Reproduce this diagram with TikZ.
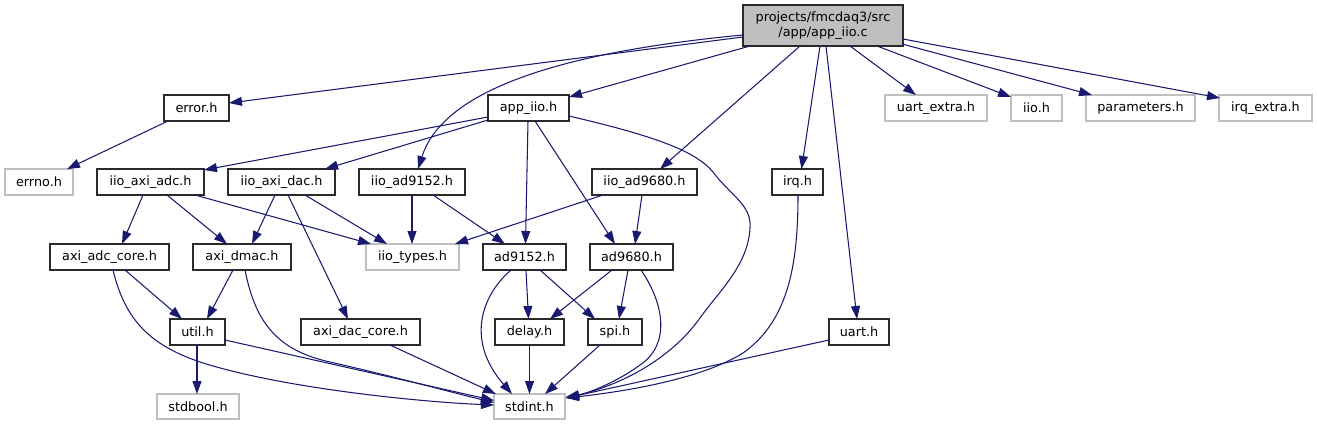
\documentclass[tikz,border=0pt]{standalone}
\usepackage{fontspec}
\setmainfont{DejaVu Sans}
\usetikzlibrary{arrows.meta}
\definecolor{edgecol}{HTML}{191970}
\definecolor{topfill}{HTML}{BFBFBF}
\definecolor{missing}{HTML}{BFBFBF}
\definecolor{nodeborder}{HTML}{2A2A2A}
\tikzset{
  file/.style={draw=nodeborder, line width=1.1pt, fill=white, inner sep=0pt, minimum height=26pt,
    font=\fontsize{12.8}{15}\selectfont, text=black, anchor=center},
  extfile/.style={file, draw=missing},
  topfile/.style={file, fill=topfill, minimum height=41pt, align=center},
  dep/.style={draw=edgecol, line width=1.05pt, -{Triangle[length=13pt,width=9pt,fill=edgecol]}},
}
\newcommand\nd[3]{([shift={(#2,#3)}]#1.center)}
\begin{document}
\begin{tikzpicture}[x=1pt,y=-1pt]
\useasboundingbox (0,0) rectangle (1317,425);
% row 1
\node[topfile, minimum width=160pt] (top) at (823,25.5) {projects/fmcdaq3/src\\/app/app\_iio.c};
% row 2
\node[file, minimum width=65pt] (error) at (196.5,108) {error.h};
\node[file, minimum width=81pt] (appiioh) at (528.5,108) {app\_iio.h};
\node[extfile, minimum width=102pt] (uartx) at (936,108) {uart\_extra.h};
\node[extfile, minimum width=51pt] (iio) at (1036.5,108) {iio.h};
\node[extfile, minimum width=109pt] (params) at (1140.5,108) {parameters.h};
\node[extfile, minimum width=93pt] (irqx) at (1265.5,108) {irq\_extra.h};
% row 3
\node[extfile, minimum width=68pt] (errno) at (39,182) {errno.h};
\node[file, minimum width=107pt] (axiadc) at (150.5,182) {iio\_axi\_adc.h};
\node[file, minimum width=107pt] (axidac) at (281.5,182) {iio\_axi\_dac.h};
\node[file, minimum width=106pt] (iad9152) at (412,182) {iio\_ad9152.h};
\node[file, minimum width=105pt] (iad9680) at (644.5,182) {iio\_ad9680.h};
\node[file, minimum width=51pt] (irq) at (797.5,182) {irq.h};
% row 4
\node[file, minimum width=119pt] (adccore) at (109.5,257) {axi\_adc\_core.h};
\node[file, minimum width=98pt] (dmac) at (242,257) {axi\_dmac.h};
\node[extfile, minimum width=93pt] (types) at (412.5,257) {iio\_types.h};
\node[file, minimum width=83pt] (ad9152) at (524.5,257) {ad9152.h};
\node[file, minimum width=83pt] (ad9680) at (631.5,257) {ad9680.h};
% row 5
\node[file, minimum width=55pt] (util) at (197.5,332) {util.h};
\node[file, minimum width=119pt] (daccore) at (360.5,332) {axi\_dac\_core.h};
\node[file, minimum width=69pt] (delay) at (529.5,332) {delay.h};
\node[file, minimum width=54pt] (spi) at (615,332) {spi.h};
\node[file, minimum width=60pt] (uart) at (859,332) {uart.h};
% row 6
\node[extfile, minimum width=82pt, minimum height=25pt] (stdbool) at (198,406.5) {stdbool.h};
\node[extfile, minimum width=71pt, minimum height=25pt] (stdint) at (529.5,406.5) {stdint.h};

% edges from top
\draw[dep] \nd{top}{-80}{11.5} -- \nd{error}{32.5}{-5};
\draw[dep] \nd{top}{-80}{9.5} .. controls (530,55) and (440,100) .. \nd{iad9152}{6}{-13};
\draw[dep] \nd{top}{-73}{20.5} -- \nd{appiioh}{40.5}{-11};
\draw[dep] \nd{top}{-23}{20.5} -- \nd{iad9680}{15.5}{-13};
\draw[dep] \nd{top}{-3}{20.5} -- \nd{irq}{4}{-13};
\draw[dep] \nd{top}{3}{20.5} -- \nd{uart}{-2}{-13};
\draw[dep] \nd{top}{27}{20.5} -- \nd{uartx}{-20}{-13};
\draw[dep] \nd{top}{54}{20.5} -- \nd{iio}{-25.5}{-11};
\draw[dep] \nd{top}{79}{18.5} -- \nd{params}{-48.5}{-13};
\draw[dep] \nd{top}{80}{13.5} -- \nd{irqx}{-45.5}{-10};
% error
\draw[dep] \nd{error}{-28.5}{13} -- \nd{errno}{28}{-13};
% app_iio.h
\draw[dep] \nd{appiioh}{-40.5}{9} -- \nd{axiadc}{53.5}{-12};
\draw[dep] \nd{appiioh}{-40.5}{12} -- \nd{axidac}{43.5}{-13};
\draw[dep] \nd{appiioh}{-0.5}{13} -- \nd{ad9152}{1}{-13};
\draw[dep] \nd{appiioh}{6.5}{13} -- \nd{ad9680}{-16.5}{-13};
\draw[dep] \nd{appiioh}{40.5}{8} .. controls (650,135) and (695,150) .. (713,172)
   .. controls (730,195) and (752,205) .. (750,228)
   .. controls (748,265) and (720,290) .. (700,318)
   .. controls (670,360) and (620,385) .. \nd{stdint}{36.5}{-8.5};
% iio_axi_adc.h
\draw[dep] \nd{axiadc}{-7.5}{13} -- \nd{adccore}{12.5}{-13};
\draw[dep] \nd{axiadc}{16.5}{13} -- \nd{dmac}{-15}{-13};
\draw[dep] \nd{axiadc}{44.5}{13} -- \nd{types}{-41.5}{-13};
% iio_axi_dac.h
\draw[dep] \nd{axidac}{-6.5}{13} -- \nd{dmac}{10}{-13};
\draw[dep] \nd{axidac}{6.5}{13} -- \nd{daccore}{-12.5}{-13};
\draw[dep] \nd{axidac}{23.5}{13} -- \nd{types}{-25.5}{-13};
% iio_ad9152.h
\draw[dep] \nd{iad9152}{0}{13} -- \nd{types}{-0.5}{-13};
\draw[dep] \nd{iad9152}{21}{13} -- \nd{ad9152}{-19.5}{-13};
% iio_ad9680.h
\draw[dep] \nd{iad9680}{-41.5}{13} -- \nd{types}{42.5}{-13};
\draw[dep] \nd{iad9680}{-2.5}{13} -- \nd{ad9680}{3.5}{-13};
% irq.h, uart.h
\draw[dep] \nd{irq}{0.5}{13} .. controls (798,260) and (790,320) .. (743,353)
   .. controls (700,380) and (620,392) .. \nd{stdint}{36.5}{-8.5};
\draw[dep] \nd{uart}{-30}{8} -- \nd{stdint}{36.5}{-8.5};
% axi_adc_core.h
\draw[dep] \nd{adccore}{15.5}{13} -- \nd{util}{-15.5}{-13};
\draw[dep] \nd{adccore}{3.5}{13} .. controls (125,320) and (150,345) .. (200,362)
   .. controls (280,388) and (420,402) .. \nd{stdint}{-35.5}{-1.5};
% axi_dmac.h
\draw[dep] \nd{dmac}{-9}{13} -- \nd{util}{9.5}{-13};
\draw[dep] \nd{dmac}{3}{13} .. controls (255,320) and (275,350) .. (330,362)
   .. controls (400,378) and (450,392) .. \nd{stdint}{-35.5}{-4};
% util.h
\draw[dep] \nd{util}{-0.5}{13} -- \nd{stdbool}{-1}{-12.5};
\draw[dep] \nd{util}{27.5}{8} -- \nd{stdint}{-35.5}{-6};
% axi_dac_core.h
\draw[dep] \nd{daccore}{29.5}{13} -- \nd{stdint}{-33.5}{-12.5};
% ad9152.h
\draw[dep] \nd{ad9152}{1.5}{13} -- \nd{delay}{-1}{-13};
\draw[dep] \nd{ad9152}{15.5}{13} -- \nd{spi}{-20}{-13};
\draw[dep] \nd{ad9152}{-13.5}{13} .. controls (482,295) and (465,340) .. \nd{stdint}{-17.5}{-12.5};
% ad9680.h
\draw[dep] \nd{ad9680}{-19.5}{13} -- \nd{delay}{20.5}{-13};
\draw[dep] \nd{ad9680}{-3.5}{13} -- \nd{spi}{4}{-13};
\draw[dep] \nd{ad9680}{9.5}{13} .. controls (665,305) and (670,345) .. (640,365)
   .. controls (620,380) and (590,393) .. \nd{stdint}{36.5}{-9.5};
% spi.h, delay.h
\draw[dep] \nd{spi}{-15}{13} -- \nd{stdint}{15.5}{-12.5};
\draw[dep] \nd{delay}{0}{13} -- \nd{stdint}{0}{-12.5};
\end{tikzpicture}
\end{document}
